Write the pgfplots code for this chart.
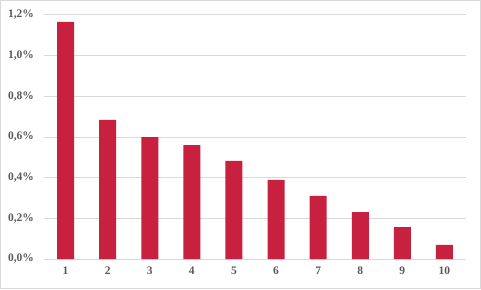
\documentclass[border=0pt]{standalone}
\usepackage{fontspec}
\setmainfont{Liberation Serif}
\usepackage{pgfplots}
\pgfplotsset{compat=1.18}
\definecolor{barred}{HTML}{C8203F}
\definecolor{gridgray}{HTML}{D9D9D9}
\definecolor{txtgray}{HTML}{595959}
\begin{document}
\begin{tikzpicture}[x=1pt,y=1pt]
\useasboundingbox (0,0) rectangle (481,289);
\draw[gridgray, line width=1pt] (0.5,0.5) rectangle (480.5,288.5);
\begin{axis}[
  at={(44.5pt,30pt)}, anchor=south west,
  scale only axis, width=421pt, height=244pt,
  xmin=0.5, xmax=10.5, ymin=0, ymax=1.2,
  xtick={1,...,10}, ytick={0,0.2,...,1.2},
  axis x line*=bottom, axis y line*=left,
  x axis line style={gridgray, line width=1pt, -},
  y axis line style={draw=none},
  major tick length=0pt,
  ymajorgrids, grid style={gridgray, line width=1pt},
  /pgf/number format/assume math mode=true,
  ticklabel style={font=\bfseries\fontsize{11.5}{13}\selectfont, text=txtgray},
  yticklabel={\pgfmathprintnumber[fixed,fixed zerofill,precision=1,use comma]{\tick}\%},
  yticklabel style={xshift=-7pt},
  xticklabel style={yshift=-4pt},
]
\addplot[ybar, bar width=17pt, fill=barred, draw=none] coordinates {
(1,1.166) (2,0.684) (3,0.600) (4,0.560) (5,0.482) (6,0.389) (7,0.310) (8,0.231) (9,0.157) (10,0.069)};
\end{axis}
\end{tikzpicture}
\end{document}
